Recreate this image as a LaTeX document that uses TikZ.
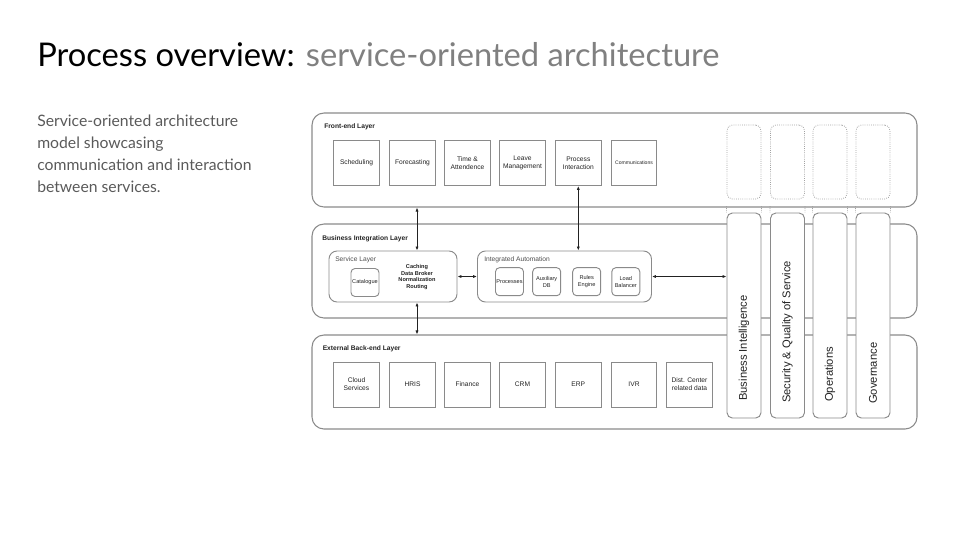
\documentclass[tikz,border=0pt]{standalone}
\usepackage{fontspec}
\setmainfont{Lato}
\newfontfamily\arial{Liberation Sans}
\usetikzlibrary{arrows.meta}
\definecolor{edge}{HTML}{8A8A8A}
\definecolor{ink}{HTML}{222222}
\definecolor{subt}{HTML}{808080}
\definecolor{body}{HTML}{5A5A5A}
\tikzset{
  layer/.style={draw=edge, line width=0.8pt, rounded corners=9pt, minimum width=453.75pt, minimum height=70.5pt, inner sep=0pt},
  sq/.style={draw=edge, line width=0.7pt, minimum width=34pt, minimum height=33.75pt, inner sep=0pt, align=center, font=\arial\fontsize{5}{6}\selectfont, text=ink},
  small/.style={draw=edge, line width=0.7pt, rounded corners=3pt, minimum width=21pt, minimum height=21pt, inner sep=0pt, align=center, font=\arial\fontsize{4.2}{5}\selectfont, text=ink},
  group/.style={draw=edge, line width=0.7pt, rounded corners=6pt, inner sep=0pt},
  lbl/.style={anchor=west, inner sep=0pt, font=\arial\bfseries\fontsize{5}{6}\selectfont, text=ink},
  glbl/.style={anchor=west, inner sep=0pt, font=\arial\fontsize{5}{6}\selectfont, text=ink!80},
  col/.style={draw=edge, line width=0.7pt, fill=white, rounded corners=4pt, minimum width=25.5pt, minimum height=153.75pt, inner sep=0pt},
  dcol/.style={draw=edge!80, line width=0.6pt, densely dotted, rounded corners=4pt, minimum width=25.5pt, minimum height=55.5pt, inner sep=0pt},
  coltext/.style={rotate=90, anchor=west, inner sep=0pt, font=\arial\fontsize{8.4}{10}\selectfont, text=ink},
  link/.style={draw=ink, line width=0.6pt, {Latex[length=3pt,width=2.4pt]}-{Latex[length=3pt,width=2.4pt]}}
}
\begin{document}
\begin{tikzpicture}[x=0.75pt,y=-0.75pt]
\useasboundingbox (0,0) rectangle (960,540);
% title and text
\node[anchor=base west, inner sep=0pt, font=\fontsize{24.5}{28}\selectfont] (title) at (37,66) {Process overview: \textcolor{subt}{service-oriented architecture}};
\node[anchor=north west, inner sep=0pt, align=left, text=body, font=\fontsize{11.8}{16.5}\selectfont] (desc) at (37,114.5) {Service-oriented architecture\\model showcasing\\communication and interaction\\between services.};
% layers
\node[layer] (front) at (614.5,160) {};
\node[layer] (mid) at (614.5,271) {};
\node[layer] (back) at (614.5,382) {};
\node[lbl] (frontl) at (324,127) {Front-end Layer};
\node[lbl] (midl) at (322,238.5) {Business Integration Layer};
\node[lbl] (backl) at (322.5,348.7) {External Back-end Layer};
% front boxes
\node[sq] (sched) at (356.5,163) {Scheduling};
\node[sq] (fore) at (412.5,163) {Forecasting};
\node[sq] (time) at (467.5,163) {Time \&\\Attendence};
\node[sq] (leave) at (522.5,163) {Leave\\Management};
\node[sq] (proc) at (578.3,163) {Process\\Interaction};
\node[sq, font=\arial\fontsize{3.8}{5}\selectfont] (comm) at (634,163) {Communications};
% service layer
\node[group, minimum width=96pt, minimum height=38.25pt] (serv) at (393,276.5) {};
\node[glbl] (servl) at (335,260) {Service Layer};
\node[small] (cat) at (365,282.5) {Catalogue};
\node[align=center, inner sep=0pt, font=\arial\bfseries\fontsize{4.2}{5}\selectfont, text=ink] (cache) at (417,277) {Caching\\Data Broker\\Normalization\\Routing};
% integrated automation
\node[group, minimum width=130.5pt, minimum height=38.25pt] (ia) at (564.5,276.5) {};
\node[glbl] (ial) at (484,259.5) {Integrated Automation};
\node[small] (procs) at (509.5,281.7) {Processes};
\node[small] (aux) at (546.7,281.7) {Auxiliary\\DB};
\node[small] (rules) at (586.7,281.7) {Rules\\Engine};
\node[small] (load) at (625.8,281.7) {Load\\Balancer};
% back boxes
\node[sq] (cloud) at (356.5,384.5) {Cloud\\Services};
\node[sq] (hris) at (412.5,384.5) {HRIS};
\node[sq] (fin) at (467.5,384.5) {Finance};
\node[sq] (crm) at (522.5,384.5) {CRM};
\node[sq] (erp) at (578.3,384.5) {ERP};
\node[sq] (ivr) at (634,384.5) {IVR};
\node[sq] (dist) at (689.5,384.5) {Dist. Center\\related data};
% columns
\foreach \n/\x in {bi/744,sec/787.5,ops/830,gov/873}{
  \node[dcol] (d\n) at (\x,162) {};
  \node[col] (\n) at (\x,315.5) {};
  \draw[edge!80, line width=0.6pt, densely dotted] (d\n.south west) ++(0,-5pt) -- (\n.north west);
  \draw[edge!80, line width=0.6pt, densely dotted] (d\n.south east) ++(0,-5pt) -- (\n.north east);
}
\node[coltext] (bit) at (744,401) {Business Intelligence};
\node[coltext] (sect) at (787.5,403) {Security \& Quality of Service};
\node[coltext] (opst) at (830,402) {Operations};
\node[coltext] (govt) at (873,404) {Governance};
% connectors
\draw[link] (cache.north |- front.south) -- (cache.north |- serv.north);
\draw[link] (proc.south) -- (proc.south |- ia.north);
\draw[link] (serv.east) -- (ia.west);
\draw[link] (ia.east) -- (ia.east -| bi.west);
\draw[link] (cache.south |- serv.south) -- (cache.south |- back.north);
\end{tikzpicture}
\end{document}
